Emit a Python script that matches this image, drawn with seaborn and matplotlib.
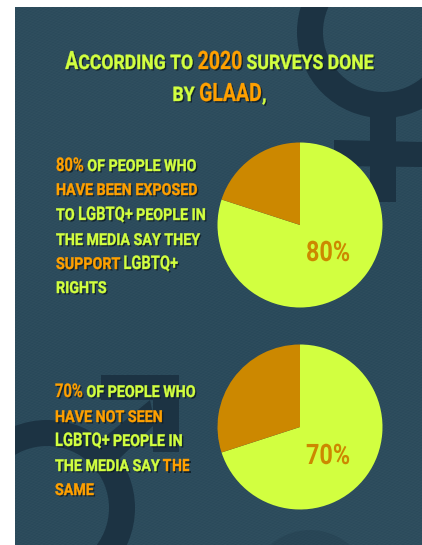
import numpy as np
import matplotlib
matplotlib.use("Agg")
import matplotlib.pyplot as plt
from matplotlib.colors import to_rgba
from matplotlib.patheffects import AbstractPathEffect
from matplotlib.patches import Circle, Polygon, Rectangle, Wedge
from matplotlib.transforms import Affine2D
import seaborn as sns

W, H = 422, 545
LIME = "#d2ff40"
ORANGE = "#ffa000"
DARK_ORANGE = "#cc8800"
PANEL = "#284859"
SYMBOL = "#1c3343"

# share of respondents per survey group
exposed_values = [80, 20]
unexposed_values = [70, 30]
exposed_label = "80%"
unexposed_label = "70%"

L, O = LIME, ORANGE
title_lines = [
    [("A", L, "b"), ("CCORDING TO ", L, "s"), ("2020", O, "b"), (" SURVEYS DONE", L, "s")],
    [("BY ", L, "s"), ("GLAAD", O, "b"), (",", L, "s")],
]
exposed_lines = [
    [("80%", O, "b"), (" OF PEOPLE WHO", L, "s")],
    [("HAVE BEEN EXPOSED", O, "s")],
    [("TO ", L, "s"), ("LGBTQ+", L, "b"), (" PEOPLE IN", L, "s")],
    [("THE MEDIA SAY THEY", L, "s")],
    [("SUPPORT", O, "s"), (" ", L, "s"), ("LGBTQ+", L, "b")],
    [("RIGHTS", L, "s")],
]
unexposed_lines = [
    [("70%", O, "b"), (" OF PEOPLE WHO", L, "s")],
    [("HAVE NOT SEEN", O, "s")],
    [("LGBTQ+", L, "b"), (" PEOPLE IN", L, "s")],
    [("THE MEDIA SAY ", L, "s"), ("THE", O, "s")],
    [("SAME", O, "s")],
]

sns.set_theme(style="white")
plt.rcParams["font.family"] = ["Roboto", "DejaVu Sans"]

fig = plt.figure(figsize=(W / 100, H / 100), dpi=100, facecolor="white")


def canvas_axes(zorder):
    """Full-figure axes measured in pixels, origin top-left."""
    ax = fig.add_axes([0, 0, 1, 1], zorder=zorder)
    ax.set_xlim(0, W)
    ax.set_ylim(H, 0)
    ax.axis("off")
    return ax


bg = canvas_axes(0)
top = canvas_axes(2)

panel = Rectangle((15, 7), W - 15, H - 7, facecolor=PANEL, edgecolor="none", zorder=0)
bg.add_patch(panel)

# fine woven texture and a soft shade across the panel
yy, xx = np.mgrid[7:H, 15:W]
weave = np.sin((xx + yy * 2.4) * 1.2) * np.sin((yy - xx * 0.3) * 0.9)
shade = 0.5 + 0.5 * np.sin(yy / 95.0 + xx / 190.0)
tex = np.zeros(xx.shape + (4,))
tex[..., :3] = 1.0
tex[..., 3] = np.clip(0.016 + 0.014 * weave + 0.014 * shade, 0, 1)
bg.imshow(tex, extent=(15, W, H, 7), zorder=1, aspect="auto", interpolation="bilinear")
bg.set_xlim(0, W)
bg.set_ylim(H, 0)


def clipped(artist):
    bg.add_patch(artist)
    artist.set_clip_path(panel)
    return artist


# female symbol, top right
clipped(Wedge((383, 32), 86, 0, 360, width=26, facecolor=SYMBOL, edgecolor="none", zorder=2))
clipped(Rectangle((370, 116), 26, 86, facecolor=SYMBOL, edgecolor="none", zorder=2))
clipped(Polygon([(334, 140), (422, 142), (422, 167), (334, 166)], facecolor=SYMBOL, edgecolor="none", zorder=2))

# male symbol, bottom left
clipped(Wedge((47, 508), 88, 0, 360, width=26, facecolor=SYMBOL, edgecolor="none", zorder=2))
clipped(Polygon([(101, 375), (179, 375), (179, 452), (153, 452), (153, 400), (101, 400)],
                facecolor=SYMBOL, edgecolor="none", zorder=2))
clipped(Polygon([(150, 400), (155, 424), (117, 461), (100, 441)], facecolor=SYMBOL, edgecolor="none", zorder=2))

# partial symbol rising from the bottom edge
clipped(Circle((310, 590), 60, facecolor=SYMBOL, edgecolor="none", alpha=0.25, zorder=2))


class TallGlyphs(AbstractPathEffect):
    """Stretches glyphs upward from the baseline, with an optional hard drop shadow."""

    def __init__(self, stretch, color, shadow=None, offset=(1.5, -1.5), embolden=0.0):
        super().__init__()
        self.stretch = stretch
        self.color = color
        self.shadow = shadow
        self.shadow_offset = offset
        self.embolden = embolden

    def draw_path(self, renderer, gc, tpath, affine, rgbFace=None):
        tall = Affine2D().scale(1, self.stretch) + affine
        if self.shadow is not None:
            gc0 = renderer.new_gc()
            gc0.copy_properties(gc)
            gc0.set_linewidth(0)
            gc0.set_alpha(0.85)
            moved = tall + Affine2D().translate(*self.shadow_offset)
            renderer.draw_path(gc0, tpath, moved, to_rgba(self.shadow))
            gc0.restore()
        gc1 = renderer.new_gc()
        gc1.copy_properties(gc)
        gc1.set_foreground(self.color)
        gc1.set_linewidth(self.embolden)
        renderer.draw_path(gc1, tpath, tall, rgbFace)
        gc1.restore()


def draw_line(runs, x, baseline, sizes, centered=False):
    """Lay coloured runs end to end along one baseline."""
    renderer = fig.canvas.get_renderer()
    placed, cursor = [], x
    for text, color, kind in runs:
        height, width_factor, heavy = sizes[kind]
        size = height * width_factor
        # trailing spaces are dropped from extents, so measure through a bracket glyph
        probe = top.text(0, 0, "|" + text + "|", fontsize=size, fontweight="bold")
        bar = top.text(0, 0, "||", fontsize=size, fontweight="bold")
        width = probe.get_window_extent(renderer).width - bar.get_window_extent(renderer).width
        probe.remove()
        bar.remove()
        placed.append((text, color, kind, cursor, width))
        cursor += width
    offset = -(cursor - x) / 2 if centered else 0
    for text, color, kind, left, _ in placed:
        if not text.strip():
            continue
        height, width_factor, heavy = sizes[kind]
        effect = [TallGlyphs(1 / width_factor, color, shadow="#0e1d27", embolden=heavy)]
        top.text(left + offset, baseline, text, color=color, fontsize=height * width_factor,
                 fontweight="bold", ha="left", va="baseline", zorder=6, path_effects=effect)


# cap height in points, horizontal proportion, extra stroke
title_sizes = {"b": (18.2, 0.77, 0.2), "s": (14.4, 0.88, 0.3)}
body_sizes = {"b": (13.6, 0.78, 0.2), "s": (11.8, 0.87, 0.3)}

draw_line(title_lines[0], 219.5, 69, title_sizes, centered=True)
draw_line(title_lines[1], 219.5, 101, title_sizes, centered=True)

for line, base in zip(exposed_lines, [171, 195, 220, 245, 269, 293]):
    draw_line(line, 56, base, body_sizes)
for line, base in zip(unexposed_lines, [397, 422, 446, 471, 495]):
    draw_line(line, 55, base, body_sizes)


def draw_pie(values, label, cx, cy, r, label_x, label_base):
    ax = fig.add_axes([(cx - r) / W, 1 - (cy + r) / H, 2 * r / W, 2 * r / H], zorder=1)
    colors = sns.color_palette([LIME, DARK_ORANGE])
    ax.pie(values, colors=colors, startangle=90, counterclock=False, radius=1,
           wedgeprops={"linewidth": 0})
    ax.set_xlim(-1, 1)
    ax.set_ylim(-1, 1)
    ax.patch.set_alpha(0)
    factor = 0.83
    top.text(label_x, label_base, label, color=DARK_ORANGE, fontsize=20.3 * factor, fontweight="bold",
             ha="left", va="baseline", path_effects=[TallGlyphs(1 / factor, DARK_ORANGE)])


draw_pie(exposed_values, exposed_label, 300, 225, 82.5, 306, 261)
draw_pie(unexposed_values, unexposed_label, 300, 427, 82.5, 306, 464)

fig.savefig("out.png", dpi=100)
